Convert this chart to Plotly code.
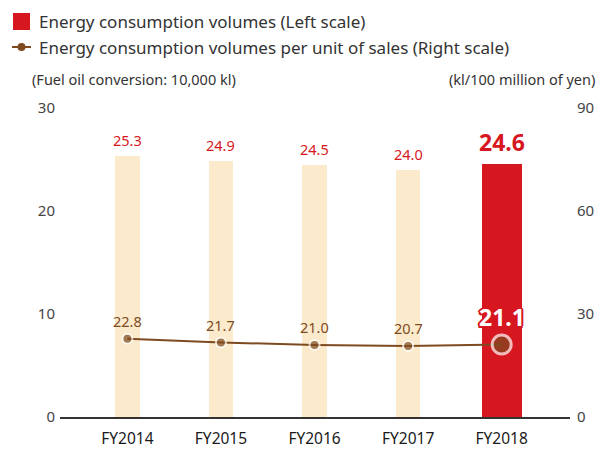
import plotly.graph_objects as go

categories = ["FY2014", "FY2015", "FY2016", "FY2017", "FY2018"]
energy_volumes = [25.3, 24.9, 24.5, 24.0, 24.6]
energy_per_sales = [22.8, 21.7, 21.0, 20.7, 21.1]
left_ticks = [0, 10, 20, 30]
right_ticks = [0, 30, 60, 90]

RED = "#D7171F"
BEIGE = "#FBEACB"
BROWN = "#7E4A1F"
FONT = "Noto Sans"

n = len(categories)
bar_colors = [BEIGE] * (n - 1) + [RED]
bar_widths = [0.26] * (n - 1) + [0.43]

# page has an 8px body margin; compensate so the figure lands at screen coords
OFF = 8
W, H = 605 - OFF, 462 - OFF
ML, MR, MT, MB = 60 - OFF, 35, 108 - OFF, 45
pw, ph = W - ML - MR, H - MT - MB


def px(x):  # screen x -> paper
    return (x - OFF - ML) / pw


def py(y):  # screen y -> paper
    return 1 - (y - OFF - MT) / ph


outline = ", ".join(f"{dx}px {dy}px 0 {RED}" for dx, dy in
                    [(2, 0), (-2, 0), (0, 2), (0, -2), (1.5, 1.5), (-1.5, -1.5), (1.5, -1.5), (-1.5, 1.5)])

fig = go.Figure()
fig.add_trace(go.Bar(
    x=categories, y=energy_volumes, marker=dict(color=bar_colors, line=dict(width=0)),
    width=bar_widths, showlegend=False, hoverinfo="skip"))
fig.add_trace(go.Scatter(
    x=categories, y=energy_per_sales, yaxis="y2", mode="lines+markers",
    line=dict(color=BROWN, width=2),
    marker=dict(color=BROWN, size=[10] * (n - 1) + [19],
                line=dict(color="#FFFFFF", width=[2] * (n - 1) + [3])),
    showlegend=False, hoverinfo="skip"))

annotations = []
for i, (c, v) in enumerate(zip(categories, energy_volumes)):
    last = i == n - 1
    annotations.append(dict(
        x=c, y=v, xref="x", yref="y", text=f"{v:.1f}", showarrow=False,
        yanchor="bottom", yshift=4,
        font=dict(family=FONT, size=14.5 if not last else 23, color=RED,
                  weight="bold" if last else "normal")))
for i, (c, v) in enumerate(zip(categories, energy_per_sales)):
    last = i == n - 1
    if last:
        annotations.append(dict(
            x=c, y=v, xref="x", yref="y2", text=f"{v:.1f}", showarrow=False,
            yanchor="bottom", yshift=10,
            font=dict(family=FONT, size=23, color="white", weight="bold",
                      shadow=outline)))
    else:
        annotations.append(dict(
            x=c, y=v, xref="x", yref="y2", text=f"{v:.1f}", showarrow=False,
            yanchor="bottom", yshift=6,
            font=dict(family=FONT, size=14.5, color=BROWN)))

text_items = [
    (37, 21, "Energy consumption volumes (Left scale)", "left", 17),
    (37, 47, "Energy consumption volumes per unit of sales (Right scale)", "left", 17),
    (30, 79, "(Fuel oil conversion: 10,000 kl)", "left", 14.5),
    (597, 79, "(kl/100 million of yen)", "right", 14.5),
]
for x, y, t, anc, s in text_items:
    annotations.append(dict(
        x=px(x), y=py(y), xref="paper", yref="paper", text=t, showarrow=False,
        xanchor=anc, yanchor="middle", font=dict(family=FONT, size=s, color="#333")))

shapes = [
    dict(type="rect", xref="paper", yref="paper", x0=px(13), x1=px(30), y0=py(30), y1=py(13),
         fillcolor=RED, line=dict(width=0)),
    dict(type="line", xref="paper", yref="paper", x0=px(12), x1=px(31), y0=py(47), y1=py(47),
         line=dict(color=BROWN, width=2)),
    dict(type="circle", xref="paper", yref="paper", x0=px(17.5), x1=px(25.5), y0=py(51), y1=py(43),
         fillcolor=BROWN, line=dict(width=0)),
]

fig.update_layout(
    width=W, height=H, margin=dict(l=ML, r=MR, t=MT, b=MB),
    paper_bgcolor="white", plot_bgcolor="white",
    font=dict(family=FONT, color="#444"),
    bargap=0,
    xaxis=dict(range=[-0.72, 4.73], showgrid=False, zeroline=False, showline=True,
               linecolor="#333", linewidth=2, ticks="",
               tickfont=dict(family=FONT, size=15.5, color="#1a1a1a"),
               ticklabelstandoff=6),
    yaxis=dict(range=[0, 30], tickvals=left_ticks, showgrid=False, zeroline=False,
               showline=False, ticks="", tickfont=dict(family=FONT, size=15, color="#444"),
               ticklabelstandoff=4),
    yaxis2=dict(range=[0, 90], tickvals=right_ticks, overlaying="y", side="right",
                showgrid=False, zeroline=False, showline=False, ticks="",
                tickfont=dict(family=FONT, size=15, color="#444"), ticklabelstandoff=6),
    annotations=annotations, shapes=shapes,
)

fig.write_html("out.html")
